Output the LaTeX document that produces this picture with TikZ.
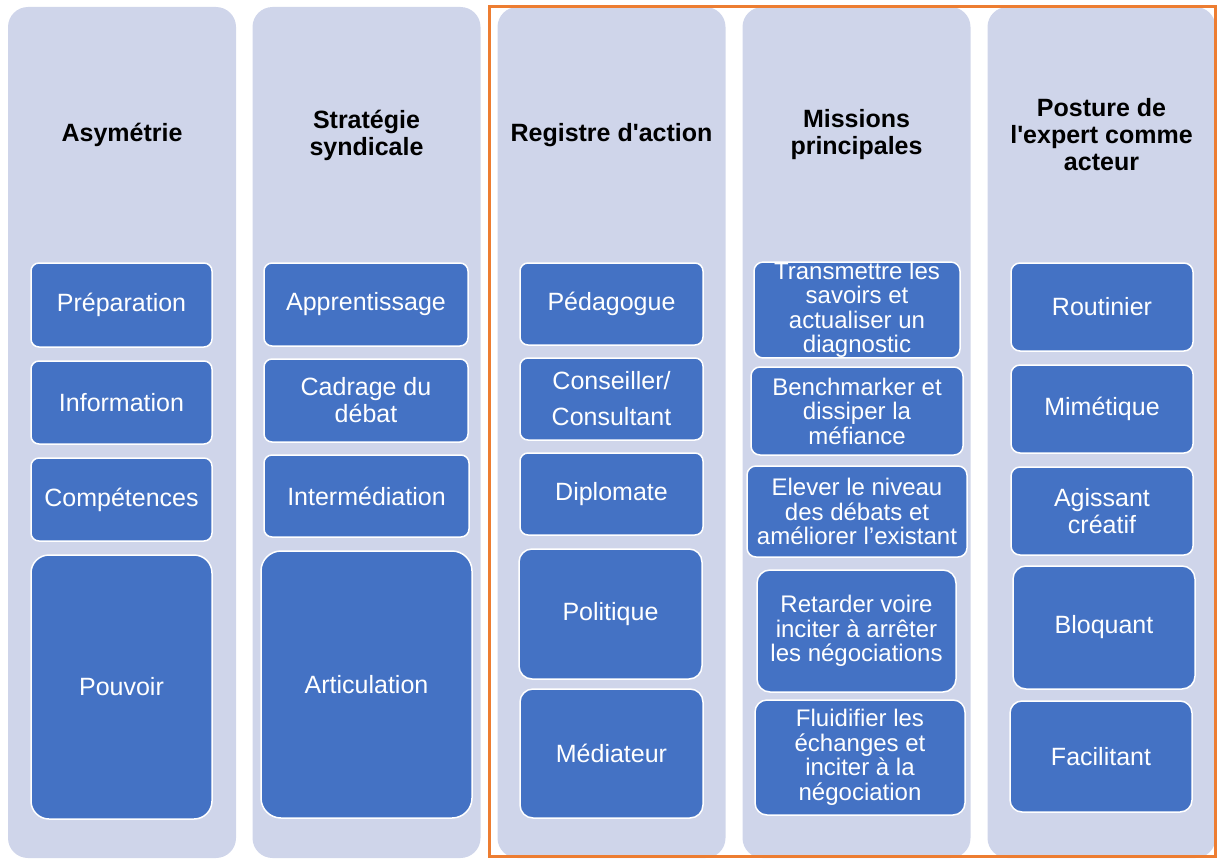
\documentclass[tikz,border=0pt]{standalone}
\usepackage{fontspec}
\setmainfont{Liberation Sans}[Ligatures=TeXOff]
\definecolor{lav}{HTML}{CFD5EA}
\definecolor{myblue}{HTML}{4472C4}
\definecolor{myorange}{HTML}{ED7D31}
\begin{document}
\begin{tikzpicture}[x=1pt,y=-1pt,
  colbg/.style={fill=lav, draw=none, rounded corners=20pt, minimum width=228pt, minimum height=851pt, inner sep=0pt},
  head/.style={font=\fontsize{25}{27}\selectfont\bfseries, align=center, text=black, inner sep=0pt},
  bbox/.style={draw=white, line width=1.5pt, fill=myblue, text=white, align=center, inner sep=0pt,
     font=\fontsize{25}{27}\selectfont},
  tight/.style={font=\fontsize{24}{24.5}\selectfont}
]
\useasboundingbox (0,0) rectangle (1217,859);
% columns
\node[colbg] (c1) at (122,432.5) {};
\node[colbg] (c2) at (366.5,432.5) {};
\node[colbg] (c3) at (611.5,432.5) {};
\node[colbg] (c4) at (856.5,432.5) {};
\node[colbg] (c5) at (1101.5,432.5) {};
% frame
\draw[myorange, line width=3pt] (489.5,6.5) rectangle (1215.5,856.5);
% headings
\node[head] (h1) at (122,135) {Asymétrie};
\node[head] (h2) at (366.5,135) {Stratégie\\syndicale};
\node[head] (h3) at (611.5,135) {Registre d'action};
\node[head] (h4) at (856.5,135) {Missions\\principales};
\node[head] (h5) at (1101.5,135) {Posture de\\l'expert comme\\acteur};
% column 1
\node[bbox, rounded corners=8pt, minimum width=181pt, minimum height=84pt] (a1) at (121.5,305) {Préparation};
\node[bbox, rounded corners=8pt, minimum width=181pt, minimum height=83pt] (a2) at (121.5,402.5) {Information};
\node[bbox, rounded corners=8pt, minimum width=181pt, minimum height=83pt] (a3) at (121.5,499.5) {Compétences};
\node[bbox, rounded corners=18pt, minimum width=181pt, minimum height=264pt] (a4) at (121.5,687) {Pouvoir};
% column 2
\node[bbox, rounded corners=8pt, minimum width=204pt, minimum height=83pt] (b1) at (366,304.5) {Apprentissage};
\node[bbox, rounded corners=8pt, minimum width=204pt, minimum height=83pt] (b2) at (366,400.5) {Cadrage du\\débat};
\node[bbox, rounded corners=8pt, minimum width=205pt, minimum height=82pt] (b3) at (366.5,496) {Intermédiation};
\node[bbox, rounded corners=20pt, minimum width=211pt, minimum height=267pt] (b4) at (366.5,684.5) {Articulation};
% column 3
\node[bbox, rounded corners=8pt, minimum width=183pt, minimum height=82pt] (r1) at (611.5,304) {Pédagogue};
\node[bbox, rounded corners=8pt, minimum width=183pt, minimum height=82pt] (r2) at (611.5,399) {Conseiller/\\[9pt]Consultant};
\node[bbox, rounded corners=8pt, minimum width=183pt, minimum height=82pt] (r3) at (611.5,494) {Diplomate};
\node[bbox, rounded corners=13pt, minimum width=183pt, minimum height=130pt] (r4) at (610.5,614) {Politique};
\node[bbox, rounded corners=13pt, minimum width=183pt, minimum height=129pt] (r5) at (611.5,753.5) {Médiateur};
% column 4
\node[bbox, tight, rounded corners=9pt, minimum width=206pt, minimum height=92pt] (m1) at (857,310) {Transmettre les\\savoirs et\\actualiser un\\diagnostic};
\node[bbox, tight, rounded corners=9pt, minimum width=212pt, minimum height=88pt] (m2) at (857,411) {Benchmarker et\\dissiper la\\méfiance};
\node[bbox, tight, rounded corners=9pt, minimum width=220pt, minimum height=91pt] (m3) at (857,511.5) {Elever le niveau\\des débats et\\améliorer l’existant};
\node[bbox, tight, rounded corners=13pt, minimum width=199pt, minimum height=122pt] (m4) at (856.5,631) {Retarder voire\\inciter à arrêter\\les négociations};
\node[bbox, tight, rounded corners=12pt, minimum width=210pt, minimum height=115pt] (m5) at (860,757.5) {Fluidifier les\\échanges et\\inciter à la\\négociation};
% column 5
\node[bbox, rounded corners=9pt, minimum width=182pt, minimum height=88pt] (p1) at (1102,307) {Routinier};
\node[bbox, rounded corners=9pt, minimum width=182pt, minimum height=88pt] (p2) at (1102,409) {Mimétique};
\node[bbox, rounded corners=9pt, minimum width=182pt, minimum height=88pt] (p3) at (1102,511) {Agissant\\créatif};
\node[bbox, rounded corners=13pt, minimum width=182pt, minimum height=123pt] (p4) at (1104,627.5) {Bloquant};
\node[bbox, rounded corners=12pt, minimum width=182pt, minimum height=111pt] (p5) at (1101,756.5) {Facilitant};
\end{tikzpicture}
\end{document}
